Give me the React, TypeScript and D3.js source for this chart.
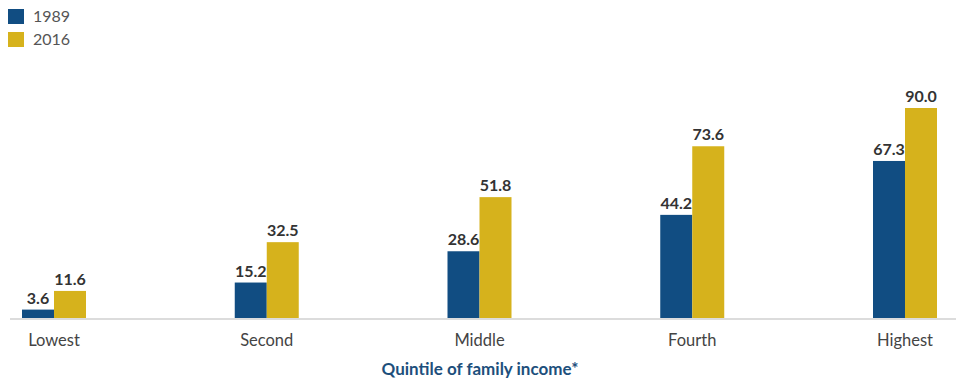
import React from "react";
import * as d3 from "d3";

const categories = ["Lowest", "Second", "Middle", "Fourth", "Highest"];
const seriesNames = ["1989", "2016"];
const values1989 = [3.6, 15.2, 28.6, 44.2, 67.3];
const values2016 = [11.6, 32.5, 51.8, 73.6, 90.0];
const xAxisTitle = "Quintile of family income*";

const W = 956;
const H = 380;
const colors = ["#114d82", "#d6b21c"];
const FONT = "Lato, 'Open Sans', sans-serif";

export default function App() {
  const x = d3.scalePoint<string>().domain(categories).range([54, 905]);
  const inner = d3.scaleBand<string>().domain(seriesNames).range([-32, 32]).padding(0);
  const y = d3.scaleLinear().domain([0, 90]).range([318, 108]);
  const series = [values1989, values2016];

  return (
    <svg
      width={W}
      height={H}
      style={{ position: "absolute", left: 0, top: 0, background: "#fff" }}
      fontFamily={FONT}
    >
      {/* legend */}
      {seriesNames.map((s, i) => (
        <g key={s} transform={`translate(8, ${9 + i * 23})`}>
          <rect width={16} height={15} fill={colors[i]} />
          <text x={25} y={13} fontSize={16} fill="#555">
            {s}
          </text>
        </g>
      ))}

      {/* baseline */}
      <line x1={10} x2={W} y1={y(0) + 1} y2={y(0) + 1} stroke="#dcdcdc" strokeWidth={2} />

      {/* bars */}
      {categories.map((c, ci) => (
        <g key={c} transform={`translate(${x(c)}, 0)`}>
          {seriesNames.map((s, si) => {
            const v = series[si][ci];
            const bx = inner(s)!;
            const bw = inner.bandwidth();
            return (
              <g key={s}>
                <rect x={bx} y={y(v)} width={bw} height={y(0) - y(v)} fill={colors[si]} />
                <text
                  x={bx + bw / 2}
                  y={y(v) - 6}
                  textAnchor="middle"
                  fontSize={16}
                  fontWeight="bold"
                  fill="#333"
                >
                  {v.toFixed(1)}
                </text>
              </g>
            );
          })}
          <text y={346} textAnchor="middle" fontSize={16.5} fill="#444">
            {c}
          </text>
        </g>
      ))}

      {/* axis title */}
      <text x={480} y={375} textAnchor="middle" fontSize={17} fontWeight="bold" fill="#1d4f7c">
        {xAxisTitle}
      </text>
    </svg>
  );
}
